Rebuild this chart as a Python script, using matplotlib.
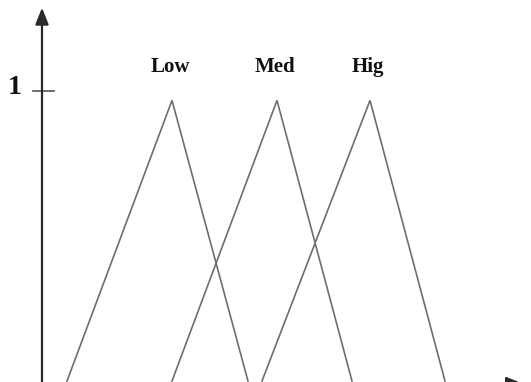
import matplotlib
matplotlib.use("Agg")
import matplotlib.pyplot as plt

# membership functions (x positions of foot-left, peak, foot-right)
labels = ["Low", "Med", "Hig"]
low_x = [25, 130, 206]
med_x = [130, 235, 310]
hig_x = [220, 328, 403]
tri_y = [0, 0.966, 0]
series_x = [low_x, med_x, hig_x]
tick_labels = ["1"]
tick_values = [1.0]

fig = plt.figure(figsize=(5.31, 3.82), dpi=100)
ax = fig.add_axes([0, 0, 1, 1])
ax.set_xlim(-42, 489)
ax.set_ylim(-0.0034, 1.3116)
ax.axis("off")

serif = ["Liberation Serif", "DejaVu Serif"]

for xs, lab in zip(series_x, labels):
    ax.plot(xs, tri_y, color="#6e6e6e", lw=1.2, solid_joinstyle="miter")
    ax.text(xs[1] - 2, 1.08, lab, ha="center", va="center",
            fontsize=15, fontweight="bold", family=serif, color="#111111")

# y axis with arrow
ax.annotate("", xy=(0, 1.285), xytext=(0, -0.01), annotation_clip=False,
            arrowprops=dict(arrowstyle="-|>,head_length=1.0,head_width=0.4",
                            color="#2a2a2a", lw=1.6, shrinkA=0, shrinkB=0))
# x axis with arrow (mostly below the visible area)
ax.annotate("", xy=(481, -0.009), xytext=(0, -0.009), annotation_clip=False,
            arrowprops=dict(arrowstyle="-|>,head_length=1.0,head_width=0.4",
                            color="#2a2a2a", lw=1.6, shrinkA=0, shrinkB=0))

for v, t in zip(tick_values, tick_labels):
    ax.plot([-9, 12], [v, v], color="#555555", lw=1.2)
    ax.text(-27, v + 0.01, t, ha="center", va="center", fontsize=20,
            fontweight="bold", family=serif, color="#111111")

fig.savefig("out.png", dpi=100)
